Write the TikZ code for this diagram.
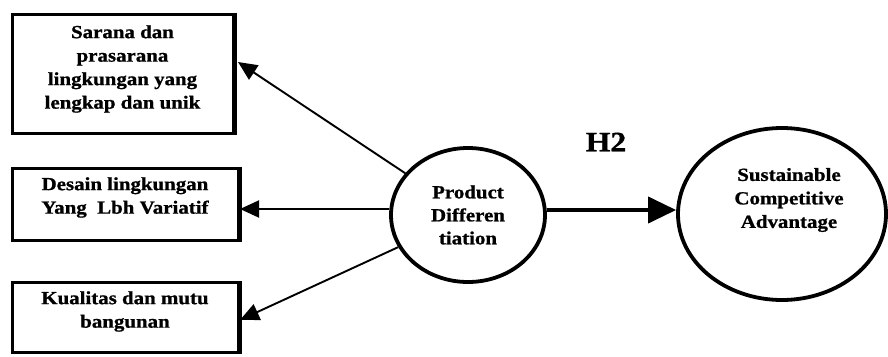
\documentclass[tikz,border=0pt]{standalone}
\usepackage{fontspec}
\setmainfont{Liberation Serif}[FakeStretch=1.13,BoldFeatures={FakeBold=1}]
\usetikzlibrary{arrows.meta,shapes.geometric}
\begin{document}
\begin{tikzpicture}[x=1pt,y=-1pt,
  indicator/.style={draw,line width=3pt,rectangle,inner sep=0pt},
  boxtext/.style={align=center,font=\bfseries\fontsize{18.5}{23.5}\selectfont},
  construct/.style={draw,line width=3.8pt,ellipse,inner sep=0pt,
    align=center,font=\bfseries\fontsize{18.5}{23}\selectfont},
  thinarrow/.style={line width=1.9pt,-{Triangle[length=19pt,width=17pt]}},
  mainarrow/.style={line width=4pt,-{Triangle[length=28pt,width=26pt]}},
  hlabel/.style={font=\bfseries\fontsize{28}{30}\selectfont}]
  \useasboundingbox (0,0) rectangle (888,356);

  % indicator boxes on the left
  \node[indicator,minimum width=221pt,minimum height=119pt] (b1) at (122.5,73.5) {};
  \node[indicator,minimum width=226pt,minimum height=72pt] (b2) at (125,204) {};
  \node[indicator,minimum width=226pt,minimum height=70pt] (b3) at (125,317) {};
  % heavier right-hand edges of the boxes
  \draw[line width=5pt] (b1.north east) -- (b1.south east);
  \draw[line width=5pt] (b2.north east) -- (b2.south east);
  \draw[line width=5pt] (b3.north east) -- (b3.south east);

  \node[boxtext] (t1) at (122.5,69) {Sarana dan\\prasarana\\lingkungan yang\\lengkap dan unik};
  \node[boxtext] (t2) at (125,197.5) {Desain lingkungan\\Yang\ \ Lbh Variatif};
  \node[boxtext] (t3) at (125,311.5) {Kualitas dan mutu\\bangunan};

  % constructs
  \node[construct,minimum width=154pt,minimum height=134pt] (pd) at (468,215) {Product\\Differen\\tiation};
  \node[construct,minimum width=208pt,minimum height=172pt] (sca) at (782,214) {};
  \node[boxtext] (scat) at (789,200) {Sustainable\\Competitive\\Advantage};

  % arrow end points on the boxes
  \coordinate (e1) at (238,62);
  \coordinate (e2) at (240,209);
  \coordinate (e3) at (240,320);

  \draw[thinarrow] (pd) -- (e1);
  \draw[thinarrow] (pd.west |- e2) -- (e2);
  \draw[thinarrow] (pd) -- (e3);

  % hypothesis path
  \coordinate (h) at (0,210);
  \draw[mainarrow] (pd.east |- h) -- (sca.west |- h);
  \node[hlabel] (h2) at (606,142) {H2};
\end{tikzpicture}
\end{document}
